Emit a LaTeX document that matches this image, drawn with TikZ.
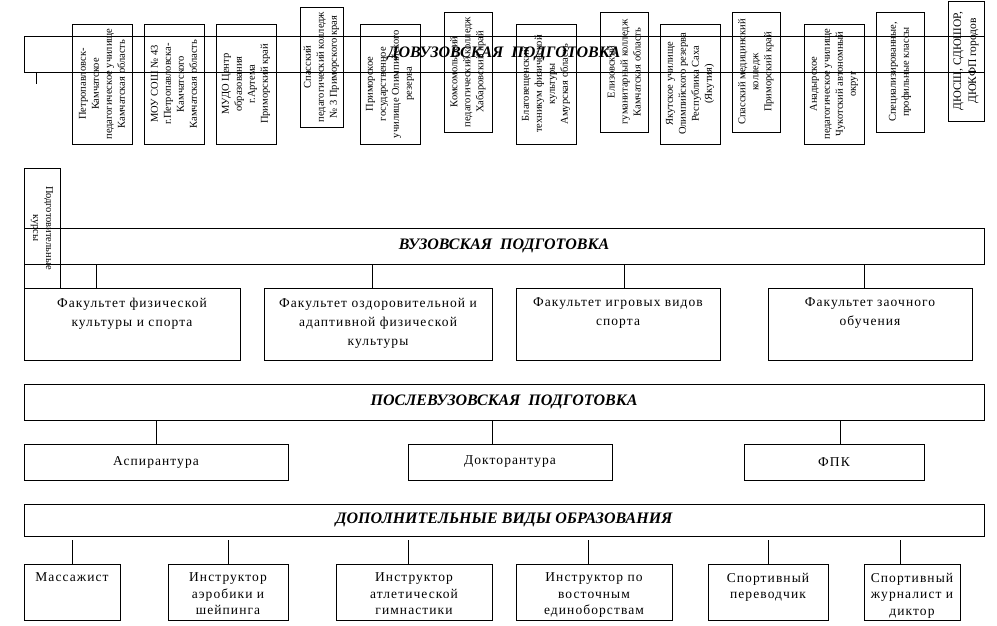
\documentclass[tikz,border=0pt]{standalone}
\usepackage{fontspec}
\setmainfont{Liberation Serif}
\newfontfamily\spacedfont[LetterSpace=8]{Liberation Serif}
\usetikzlibrary{positioning,calc}
\tikzset{
  band/.style={draw, minimum width=960pt, minimum height=36pt, inner sep=0pt, font=\fontsize{16}{18}\selectfont\bfseries\itshape},
  vbox/.style={draw, rotate=90, align=center, inner sep=1pt, font=\fontsize{10.5}{13}\selectfont},
  facbox/.style={draw, minimum height=72pt, inner sep=0pt},
  factext/.style={align=center, anchor=north, inner sep=0pt, font=\spacedfont\fontsize{13.5}{19}\selectfont},
  pgbox/.style={draw, minimum height=36pt, inner sep=0pt, font=\spacedfont\fontsize{13.5}{16}\selectfont},
  jobbox/.style={draw, minimum height=56pt, inner sep=0pt},
  jobtext/.style={align=center, anchor=north, inner sep=0pt, font=\spacedfont\fontsize{13.5}{16.5}\selectfont}
}

\begin{document}
\begin{tikzpicture}[x=1pt, y=-1pt, line width=0.8pt]
  \useasboundingbox (0,0) rectangle (997,625);

  % pre-university level
  \node[band] (dovuz) at (504,54) {ДОВУЗОВСКАЯ\ \ ПОДГОТОВКА};
  \node[vbox, minimum width=120pt, minimum height=60pt] (ppu) at (102,84) {Петропавловск-\\Камчатское\\педагогическое училище\\Камчатская область};
  \node[vbox, minimum width=120pt, minimum height=60pt] (sosh) at (174,84) {МОУ СОШ № 43\\г.Петропавловска-\\Камчатского\\Камчатская область};
  \node[vbox, minimum width=120pt, minimum height=60pt] (mudo) at (246,84) {МУДО Центр\\образования\\г.Артема\\Приморский край};
  \node[vbox, minimum width=120pt, minimum height=43pt] (spk) at (321.5,67) {Спасский\\педагогический колледж\\№ 3 Приморского края};
  \node[vbox, minimum width=120pt, minimum height=60pt] (pgu) at (390,84) {Приморское\\государственное\\училище Олимпийского\\резерва};
  \node[vbox, minimum width=120pt, minimum height=48pt] (kpk) at (468,72) {Комсомольский\\педагогический колледж\\Хабаровский край};
  \node[vbox, minimum width=120pt, minimum height=60pt] (btfk) at (546,84) {Благовещенский\\техникум физической\\культуры\\Амурская область};
  \node[vbox, minimum width=120pt, minimum height=48pt] (egk) at (624,72) {Елизовский\\гуманитарный колледж\\Камчатская область};
  \node[vbox, minimum width=120pt, minimum height=60pt] (yaur) at (690,84) {Якутское училище\\Олимпийского резерва\\Республика Саха\\(Якутия)};
  \node[vbox, minimum width=120pt, minimum height=48pt] (smk) at (756,72) {Спасский медицинский\\колледж\\Приморский край};
  \node[vbox, minimum width=120pt, minimum height=60pt] (apu) at (834,84) {Анадырское\\педагогическое училище\\Чукотский автономный\\округ};
  \node[vbox, minimum width=120pt, minimum height=48pt] (spec) at (900,72) {Специализированные,\\профильные классы};
  \node[vbox, minimum width=120pt, minimum height=36pt, font=\fontsize{11.5}{15}\selectfont] (dyush) at (966,61) {ДЮСШ, СДЮШОР,\\ДЮКФП городов};
  \coordinate (stub) at (36,84);
  \draw (stub |- dovuz.south) -- (stub);

  % university level
  \node[vbox, rotate=180, minimum width=120pt, minimum height=36pt] (kursy) at (42,228) {Подготовительные\\курсы};
  \node[band] (vuz) at (504,246) {ВУЗОВСКАЯ\ \ ПОДГОТОВКА};
  \node[facbox, minimum width=216pt] (f1) at (132,324) {};
  \node[facbox, minimum width=228pt] (f2) at (378,324) {};
  \node[facbox, minimum width=204pt] (f3) at (618,324) {};
  \node[facbox, minimum width=204pt] (f4) at (870,324) {};
  \node[factext] at ([yshift=-10pt]f1.north) {Факультет физической\\культуры и спорта};
  \node[factext] at ([yshift=-10pt]f2.north) {Факультет оздоровительной и\\адаптивной физической\\культуры};
  \node[factext] at ([yshift=-10pt]f3.north) {Факультет игровых видов\\спорта};
  \node[factext] at ([yshift=-10pt]f4.north) {Факультет заочного\\обучения};
  \foreach \n/\dx in {f1/-36,f2/-6,f3/6,f4/-6}{
    \coordinate (top\n) at ([xshift=\dx pt]\n.north);
    \draw (top\n |- vuz.south) -- (top\n);
  }

  % postgraduate level
  \node[band] (posle) at (504,402) {ПОСЛЕВУЗОВСКАЯ\ \ ПОДГОТОВКА};
  \node[pgbox, minimum width=264pt] (asp) at (156,462) {Аспирантура};
  \node[pgbox, minimum width=204pt] (dok) at (510,462) {Докторантура};
  \node[pgbox, minimum width=180pt] (fpk) at (834,462) {ФПК};
  \foreach \n/\dx in {asp/0,dok/-18,fpk/6}{
    \coordinate (top\n) at ([xshift=\dx pt]\n.north);
    \draw (top\n |- posle.south) -- (top\n);
  }

  % additional education
  \node[band, minimum height=32pt] (dop) at (504,520) {ДОПОЛНИТЕЛЬНЫЕ ВИДЫ ОБРАЗОВАНИЯ};
  \node[jobbox, minimum width=96pt] (mass) at (72,592) {};
  \node[jobbox, minimum width=120pt] (aero) at (228,592) {};
  \node[jobbox, minimum width=156pt] (atl) at (414,592) {};
  \node[jobbox, minimum width=156pt] (vost) at (594,592) {};
  \node[jobbox, minimum width=120pt] (perev) at (768,592) {};
  \node[jobbox, minimum width=96pt] (zhurn) at (912,592) {};
  \node[jobtext] at ([yshift=-9pt]mass.north) {Массажист};
  \node[jobtext] at ([yshift=-9pt]aero.north) {Инструктор\\аэробики и\\шейпинга};
  \node[jobtext] at ([yshift=-9pt]atl.north) {Инструктор\\атлетической\\гимнастики};
  \node[jobtext] at ([yshift=-9pt]vost.north) {Инструктор по\\восточным\\единоборствам};
  \node[jobtext] at ([yshift=-9pt]perev.north) {Спортивный\\переводчик};
  \node[jobtext] at ([yshift=-9pt]zhurn.north) {Спортивный\\журналист и\\диктор};
  \foreach \n/\dx in {mass/0,aero/0,atl/-6,vost/-6,perev/0,zhurn/-12}{
    \coordinate (top\n) at ([xshift=\dx pt]\n.north);
    \draw[shorten <=4pt] (top\n |- dop.south) -- (top\n);
  }
\end{tikzpicture}
\end{document}
